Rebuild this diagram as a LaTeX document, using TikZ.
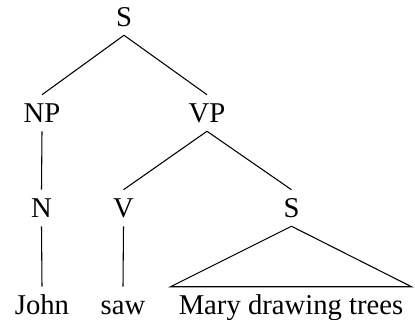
\documentclass[tikz,border=0pt]{standalone}
\usepackage{fontspec}
\setmainfont{Liberation Serif}
\tikzset{
  cat/.style={inner sep=6pt, text height=15pt, text depth=0pt, font=\fontsize{21.5}{26}\selectfont},
  branch/.style={line width=0.8pt}
}
\begin{document}
\begin{tikzpicture}[x=0.75pt,y=0.75pt,yscale=-1,xscale=1]
%set diagram left start at 0, and has height of 320
\path[use as bounding box] (0,0) rectangle (415,320);

%Labels
\node[cat] (s) at (124,17) {S};
\node[cat] (np) at (42,113) {NP};
\node[cat] (vp) at (207,113) {VP};
\node[cat] (n) at (41.5,208) {N};
\node[cat] (v) at (123.5,208) {V};
\node[cat] (s2) at (291.5,208) {S};
\node[cat] (john) at (42,305) {John};
\node[cat] (saw) at (123,305) {saw};
\node[cat] (mary) at (291,305) {Mary drawing trees};

%Straight Lines
\draw[branch] (s.south) -- (np.north);
\draw[branch] (s.south) -- (vp.north);
\draw[branch] (np.south) -- (n.north);
\draw[branch] (n.south) -- (john.north);
\draw[branch] (vp.south) -- (v.north);
\draw[branch] (vp.south) -- (s2.north);
\draw[branch] (v.south) -- (saw.north);
%Triangle
\draw[branch] (mary.north west) -- (s2.south) -- (mary.north east) -- cycle;

\end{tikzpicture}
\end{document}
